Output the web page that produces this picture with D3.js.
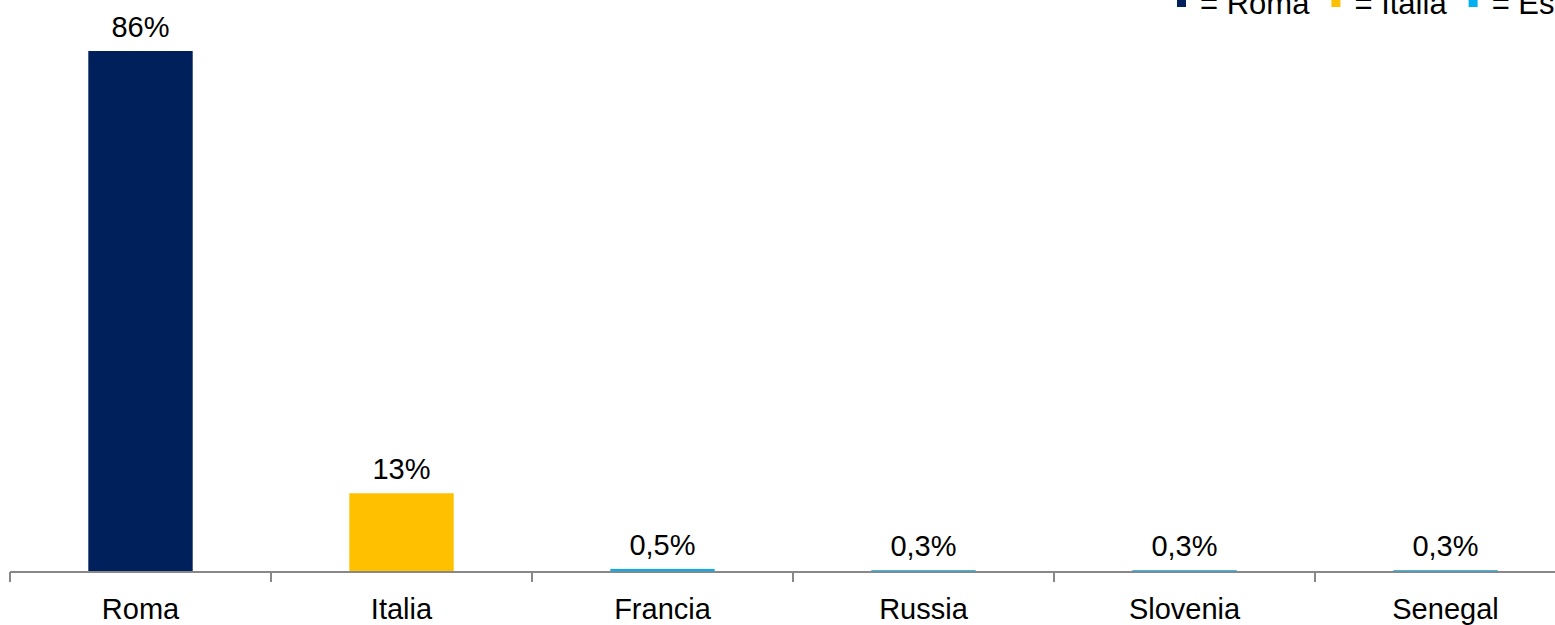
<!DOCTYPE html>
<html>
<head>
<meta charset="utf-8">
<script src="https://cdn.jsdelivr.net/npm/d3@7/dist/d3.min.js"></script>
<style>
  html, body { margin: 0; padding: 0; background: #fff; overflow: hidden; }
  svg { display: block; font-family: "Liberation Sans", Arial, sans-serif; }
</style>
</head>
<body>
<svg id="chart" width="1555" height="625"></svg>
<script>
// Share of visitors by origin
const categories = ["Roma", "Italia", "Francia", "Russia", "Slovenia", "Senegal"];
const values = [86, 13, 0.5, 0.3, 0.3, 0.3];
const valueLabels = ["86%", "13%", "0,5%", "0,3%", "0,3%", "0,3%"];
const groups = ["Roma", "Italia", "Estero", "Estero", "Estero", "Estero"];

const legendNames = ["Roma", "Italia", "Estero"];
const legendColors = ["#00205B", "#FFC000", "#00B0F0"];

const W = 1555, H = 625;
const baseY = 572;
const svg = d3.select("#chart");

const color = d3.scaleOrdinal().domain(legendNames).range(legendColors);

const x = d3.scaleBand()
  .domain(categories)
  .range([10, 10 + 6 * 261])
  .paddingInner(0.6)
  .paddingOuter(0.3);

const y = d3.scaleLinear()
  .domain([0, 100])
  .range([baseY, baseY - 605.8]);

// bars
svg.append("g")
  .selectAll("rect")
  .data(categories)
  .join("rect")
  .attr("x", d => x(d))
  .attr("width", x.bandwidth())
  .attr("y", (d, i) => y(values[i]))
  .attr("height", (d, i) => y(0) - y(values[i]))
  .attr("fill", (d, i) => color(groups[i]));

// value labels
svg.append("g")
  .selectAll("text")
  .data(categories)
  .join("text")
  .attr("x", d => x(d) + x.bandwidth() / 2)
  .attr("y", (d, i) => y(values[i]) - 14)
  .attr("text-anchor", "middle")
  .attr("font-size", 29)
  .attr("fill", "#000")
  .text((d, i) => valueLabels[i]);

// category axis with tick marks at band boundaries
const axis = svg.append("g");
axis.append("line")
  .attr("x1", 10).attr("x2", W + 30)
  .attr("y1", baseY).attr("y2", baseY)
  .attr("stroke", "#888").attr("stroke-width", 2);
const step = x.step();
axis.selectAll("line.tick")
  .data(d3.range(categories.length + 1))
  .join("line")
  .attr("class", "tick")
  .attr("x1", i => 10 + i * step).attr("x2", i => 10 + i * step)
  .attr("y1", baseY).attr("y2", baseY + 10)
  .attr("stroke", "#888").attr("stroke-width", 2);
axis.selectAll("text")
  .data(categories)
  .join("text")
  .attr("x", d => x(d) + x.bandwidth() / 2)
  .attr("y", 619)
  .attr("text-anchor", "middle")
  .attr("font-size", 29)
  .attr("fill", "#000")
  .text(d => d);

// legend: square marker, then "= name", laid out left to right
const legend = svg.append("g");
let lx = 1177;
legendNames.forEach(name => {
  const g = legend.append("g").attr("transform", `translate(${lx},0)`);
  g.append("rect").attr("x", 0).attr("y", -2).attr("width", 9).attr("height", 9)
    .attr("fill", color(name));
  const t = g.append("text").attr("x", 23).attr("y", 14)
    .attr("font-size", 31).attr("fill", "#000")
    .text("= " + name);
  lx += 23 + t.node().getComputedTextLength() + 22;
});
</script>
</body>
</html>
